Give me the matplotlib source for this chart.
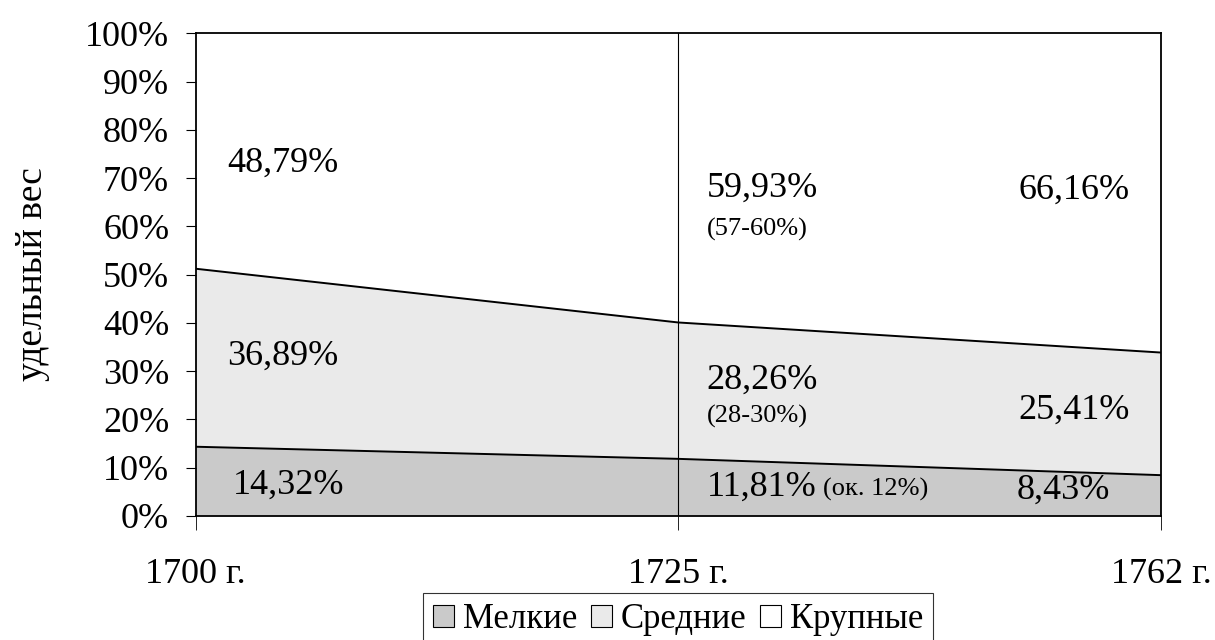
import matplotlib
matplotlib.use("Agg")
import matplotlib.pyplot as plt
from matplotlib.patches import Patch

plt.rcParams['font.family'] = ['Liberation Serif', 'DejaVu Serif']

# данные
years = ['1700 г.', '1725 г.', '1762 г.']
series_names = ['Мелкие', 'Средние', 'Крупные']
melkie = [14.32, 11.81, 8.43]
srednie = [36.89, 28.26, 25.41]
krupnye = [48.79, 59.93, 66.16]
notes_1725 = ['(ок. 12%)', '(28-30%)', '(57-60%)']

colors = ['#cacaca', '#eaeaea', '#ffffff']


def pct(v):
    return f'{v:.2f}%'.replace('.', ',')


fig = plt.figure(figsize=(12.15, 6.4), dpi=100)
ax = fig.add_axes([0.161, 0.194, 0.7945, 0.754])

x = list(range(len(years)))
ax.stackplot(x, melkie, srednie, krupnye, colors=colors, linewidth=0)

b1 = melkie
b2 = [a + b for a, b in zip(melkie, srednie)]
ax.plot(x, b1, color='black', lw=1.4)
ax.plot(x, b2, color='black', lw=1.4)
ax.axvline(1, color='black', lw=0.8)

ax.set_xlim(0, 2)
ax.set_ylim(0, 100)
ax.set_yticks(range(0, 101, 10))
ax.set_yticklabels([f'{v}%' for v in range(0, 101, 10)])
ax.set_xticks(x)
ax.set_xticklabels(years)
ax.tick_params(axis='y', labelsize=26, length=7, width=0.8, pad=12)
ax.tick_params(axis='x', labelsize=26, length=10, width=0.6, pad=20)
for s in ax.spines.values():
    s.set_linewidth(1.3)
ax.set_ylabel('удельный вес', fontsize=27, labelpad=25)

big = 26
small = 19
# подписи значений
ax.text(0.066, 73.1, pct(krupnye[0]), fontsize=big, va='center')
ax.text(0.066, 33.1, pct(srednie[0]), fontsize=big, va='center')
ax.text(0.077, 6.4, pct(melkie[0]), fontsize=big, va='center')

ax.text(1.059, 67.9, pct(krupnye[1]), fontsize=big, va='center')
ax.text(1.059, 59.4, notes_1725[2], fontsize=small, va='center')
ax.text(1.059, 28.2, pct(srednie[1]), fontsize=big, va='center')
ax.text(1.059, 20.5, notes_1725[1], fontsize=small, va='center')
ax.text(1.059, 6.0, pct(melkie[1]), fontsize=big, va='center')
ax.text(1.30, 5.4, notes_1725[0], fontsize=small, va='center')

ax.text(1.936, 67.5, pct(krupnye[2]), fontsize=big, va='center', ha='right')
ax.text(1.936, 21.9, pct(srednie[2]), fontsize=big, va='center', ha='right')
ax.text(1.894, 5.4, pct(melkie[2]), fontsize=big, va='center', ha='right')

handles = [Patch(facecolor=c, edgecolor='black', lw=0.8) for c in colors]
leg = fig.legend(handles, series_names, loc='upper center', bbox_to_anchor=(0.558, 0.074),
                 ncol=3, fontsize=25, frameon=True, fancybox=False, edgecolor='black',
                 handlelength=0.6, handleheight=0.6, handletextpad=0.25, columnspacing=0.4,
                 borderpad=0.3, borderaxespad=0)
leg.get_frame().set_linewidth(0.8)

fig.savefig('out.png', dpi=100)
